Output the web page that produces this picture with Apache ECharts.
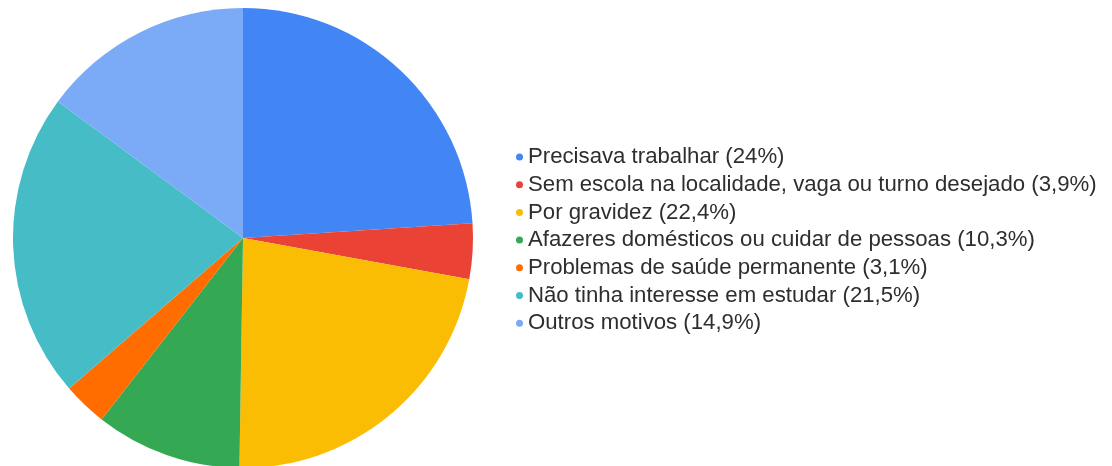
<!DOCTYPE html>
<html>
<head>
<meta charset="utf-8">
<script src="https://cdn.jsdelivr.net/npm/echarts@6/dist/echarts.min.js"></script>
<style>
  html, body { margin: 0; padding: 0; background: #fff; }
  #chart { width: 1112px; height: 466px; }
</style>
</head>
<body>
<div id="chart"></div>
<script>
// motivos de abandono escolar (%)
var labels = [
    'Precisava trabalhar (24%)',
    'Sem escola na localidade, vaga ou turno desejado (3,9%)',
    'Por gravidez (22,4%)',
    'Afazeres domésticos ou cuidar de pessoas (10,3%)',
    'Problemas de saúde permanente (3,1%)',
    'Não tinha interesse em estudar (21,5%)',
    'Outros motivos (14,9%)'
];
var values = [24, 3.9, 22.4, 10.3, 3.1, 21.5, 14.9];
var colors = ['#4285F4', '#EA4335', '#FBBC04', '#34A853', '#FF6D01', '#46BDC6', '#7BAAF7'];

var pieData = [];
for (var i = 0; i < labels.length; i++) {
    pieData.push({name: labels[i], value: values[i], itemStyle: {color: colors[i]}});
}

var myChart = echarts.init(document.getElementById('chart'));
myChart.setOption({
    animation: false,
    legend: {
        orient: 'vertical',
        left: 511,
        top: 141,
        icon: 'circle',
        itemWidth: 7,
        itemHeight: 7,
        itemGap: 5.7,
        textStyle: {
            fontFamily: 'Liberation Sans, Arial, sans-serif',
            fontSize: 22.2,
            color: '#2e2e2e',
            lineHeight: 22
        },
        data: labels
    },
    series: [{
        type: 'pie',
        center: [243, 238],
        radius: 230,
        startAngle: 90,
        clockwise: true,
        label: {show: false},
        labelLine: {show: false},
        itemStyle: {borderWidth: 0},
        emphasis: {disabled: true},
        data: pieData
    }]
});
</script>
</body>
</html>
